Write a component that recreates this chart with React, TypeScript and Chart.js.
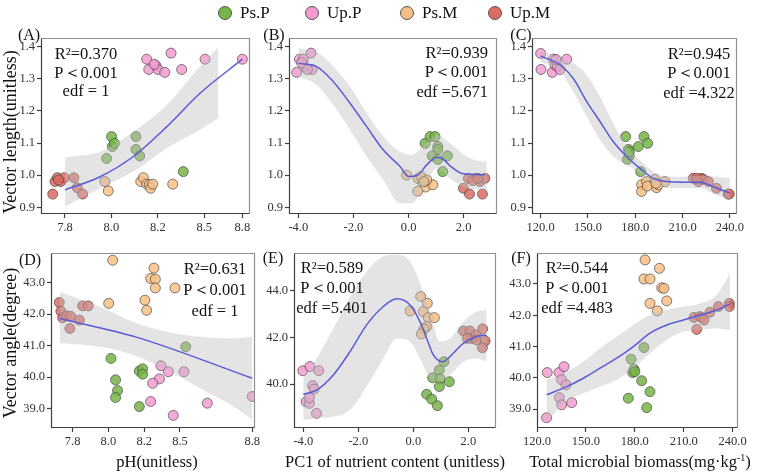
import React, { useEffect, useRef } from "react";
import { Chart, registerables } from "chart.js";

Chart.register(...registerables);

const FONT = "'Liberation Serif', 'Times New Roman', Times, serif";

// Groups
const groupNames = ["Ps.P", "Up.P", "Ps.M", "Up.M"];
const groupColors = ["#76b547", "#f39bd1", "#f8bf85", "#dc6b62"];
const groupFill = [
  "rgba(118,181,71,0.85)",
  "rgba(243,155,209,0.85)",
  "rgba(248,191,133,0.85)",
  "rgba(220,107,98,0.85)",
];
const BAND = "rgba(190,190,190,0.42)";
const FIT = "#5b5bd9";

// Ticks
const phTicksA = [7.75, 8.0, 8.25, 8.5, 8.705];
const phTicksD = [7.75, 8.0, 8.25, 8.5, 9.005];
const phLabels = ["7.8", "8.0", "8.2", "8.5", "8.8"];
const pcTicks = [-4, -2, 0, 2];
const pcLabels = ["-4.0", "-2.0", "0.0", "2.0"];
const mbTicks = [120, 150, 180, 210, 240];
const mbLabels = ["120.0", "150.0", "180.0", "210.0", "240.0"];
const lenTicks = [0.9, 1.0, 1.1, 1.2, 1.3, 1.4];
const lenLabels = ["0.9", "1.0", "1.1", "1.2", "1.3", "1.4"];
const angTicks = [39, 40, 41, 42, 43];
const angLabels = ["39.0", "40.0", "41.0", "42.0", "43.0"];
const angTicksE = [40, 42, 44];
const angLabelsE = ["40.0", "42.0", "44.0"];

// (A) vector length vs pH
const aPsP = [[8.001, 1.12], [8.005, 1.089], [8.016, 1.099], [7.974, 1.052], [8.132, 1.12], [8.132, 1.08], [8.152, 1.06], [8.387, 1.011]];
const aUpP = [[8.19, 1.361], [8.201, 1.329], [8.24, 1.341], [8.251, 1.329], [8.287, 1.32], [8.321, 1.38], [8.378, 1.329], [8.504, 1.361], [8.705, 1.361], [8.23, 1.345]];
const aPsM = [[7.965, 0.98], [7.983, 0.951], [8.158, 0.98], [8.172, 0.992], [8.19, 0.972], [8.204, 0.97], [8.211, 0.959], [8.222, 0.972], [8.33, 0.972]];
const aUpM = [[7.684, 0.941], [7.696, 0.98], [7.709, 0.992], [7.728, 0.98], [7.746, 0.992], [7.798, 0.992], [7.816, 0.961], [7.845, 0.941], [7.715, 0.985]];
const aFitX = [7.75, 7.939, 8.118, 8.298, 8.477, 8.705];
const aFitY = [0.954, 0.995, 1.058, 1.151, 1.255, 1.361];
const aBandX = [7.75, 7.939, 8.118, 8.298, 8.477, 8.576];
const aBandHi = [1.056, 1.073, 1.135, 1.218, 1.338, 1.398];
const aBandLo = [0.902, 0.959, 1.011, 1.084, 1.141, 1.177];

// (B) vector length vs PC1
const bPsP = [[0.6, 1.099], [0.78, 1.12], [0.96, 1.12], [1.06, 1.089], [1.06, 1.08], [0.86, 1.06], [1.06, 1.049], [1.41, 1.06], [1.24, 1.011]];
const bUpP = [[-4.06, 1.32], [-3.96, 1.361], [-3.82, 1.361], [-3.78, 1.338], [-3.54, 1.38], [-3.5, 1.329], [-3.67, 1.329], [-3.88, 1.35]];
const bPsM = [[-0.07, 1.0], [0.34, 0.99], [0.45, 0.996], [0.52, 0.977], [0.62, 0.963], [0.88, 0.97], [0.33, 0.95], [0.66, 0.985], [0.56, 0.98]];
const bUpM = [[1.99, 0.959], [2.21, 0.941], [2.17, 0.99], [2.45, 0.99], [2.59, 0.98], [2.77, 0.99], [2.68, 0.941], [2.33, 0.983], [2.52, 0.99]];
const bFitX = [-4, -3.335, -2.73, -2.125, -1.52, -0.915, -0.31, 0.004, 0.295, 0.658, 1.02, 1.262, 1.504, 1.988, 2.774];
const bFitY = [1.348, 1.338, 1.291, 1.224, 1.151, 1.078, 1.027, 0.996, 0.998, 1.032, 1.056, 1.049, 1.029, 1.004, 1.001];
const bBandX = [-4, -3.335, -2.73, -2.125, -1.52, -0.915, -0.31, 0.11, 0.6, 1.02, 1.504, 2.109, 2.714, 2.834];
const bBandHi = [1.395, 1.384, 1.338, 1.276, 1.193, 1.12, 1.073, 1.063, 1.096, 1.125, 1.099, 1.058, 1.042, 1.049];
const bBandLo = [1.307, 1.281, 1.218, 1.141, 1.058, 0.985, 0.912, 0.912, 0.97, 1.021, 0.99, 0.959, 0.954, 0.954];

// (C) vector length vs microbial biomass
const cPsP = [[173.9, 1.12], [175.6, 1.08], [176.2, 1.06], [174.9, 1.049], [176.2, 1.073], [181.9, 1.089], [185.5, 1.12], [187.8, 1.099], [183.4, 1.011]];
const cUpP = [[120, 1.379], [120.2, 1.329], [127.4, 1.32], [128, 1.361], [129.1, 1.343], [130.6, 1.338], [132.3, 1.329], [136.5, 1.361], [129.7, 1.36]];
const cPsM = [[184, 0.97], [184, 0.949], [187.2, 0.98], [187.6, 0.966], [192.5, 0.987], [193.5, 0.961], [194.6, 0.97], [198.8, 0.98], [193.1, 0.975]];
const cUpM = [[216.8, 0.99], [220, 0.98], [222, 0.99], [223.1, 0.987], [226.3, 0.98], [231.5, 0.959], [238.9, 0.941], [239.6, 0.941], [218.9, 0.99]];
const cFitX = [120, 132.3, 140.7, 149.2, 157.6, 166.1, 174.5, 183, 191.4, 199.9, 210.4, 221, 229.4, 240];
const cFitY = [1.371, 1.343, 1.301, 1.229, 1.167, 1.104, 1.058, 1.021, 0.99, 0.98, 0.978, 0.978, 0.964, 0.944];
const cBandX = [120, 132.3, 140.7, 149.2, 157.6, 166.1, 174.5, 183, 191.4, 199.9, 210.4, 221, 231.5, 240];
const cBandHi = [1.39, 1.364, 1.348, 1.312, 1.244, 1.161, 1.089, 1.047, 1.011, 0.995, 0.995, 0.997, 0.995, 0.99];
const cBandLo = [1.353, 1.322, 1.26, 1.182, 1.11, 1.058, 1.032, 1.006, 0.975, 0.959, 0.959, 0.959, 0.938, 0.923];

// (D) vector angle vs pH
const dPsP = [[8.018, 40.59], [8.05, 39.91], [8.064, 39.57], [8.05, 39.35], [8.216, 39.06], [8.216, 40.19], [8.239, 40.26], [8.239, 40.09], [8.54, 40.96]];
const dUpP = [[8.367, 40.36], [8.356, 39.94], [8.309, 39.8], [8.295, 39.22], [8.419, 40.17], [8.453, 38.78], [8.528, 40.17], [8.691, 39.17], [9.005, 39.38]];
const dPsM = [[8.03, 43.71], [8.318, 43.46], [8.295, 43.13], [8.328, 43.11], [8.328, 42.83], [8.465, 42.83], [8.002, 42.34], [8.255, 42.44], [8.267, 42.12]];
const dUpM = [[7.657, 42.37], [7.668, 42.09], [7.68, 41.88], [7.708, 41.94], [7.736, 41.93], [7.797, 41.81], [7.82, 42.26], [7.859, 42.26], [7.731, 41.54]];
const dFitX = [7.661, 8.2, 9.005];
const dFitY = [41.86, 41.26, 39.96];
const dBandX = [7.661, 7.941, 8.174, 8.407, 8.64, 8.873, 9.005];
const dBandHi = [42.7, 42.23, 41.75, 41.44, 41.28, 41.23, 41.28];
const dBandLo = [41.07, 40.96, 40.7, 40.22, 39.64, 39.06, 38.64];

// (E) vector angle vs PC1
const ePsP = [[1.115, 40.96], [0.945, 40.6], [0.703, 40.27], [0.97, 40.22], [0.945, 39.89], [1.309, 40.1], [0.485, 39.56], [0.667, 39.35], [0.873, 39.07]];
const eUpP = [[-4.02, 40.57], [-3.76, 40.75], [-3.44, 40.57], [-3.66, 39.93], [-3.61, 39.78], [-3.9, 39.24], [-3.78, 39.17], [-3.78, 39.41], [-3.52, 38.74]];
const ePsM = [[-0.12, 43.14], [0.267, 43.76], [0.509, 43.47], [0.364, 43.11], [0.545, 42.85], [0.764, 42.85], [0.485, 42.47], [0.388, 42.37], [0.291, 42.15]];
const eUpM = [[1.82, 42.28], [2.06, 42.28], [2.12, 41.96], [2.28, 42.11], [2.52, 42.37], [2.3, 41.89], [2.61, 41.85], [2.51, 41.56], [1.96, 41.96]];
const eFitX = [-4, -3.515, -2.909, -2.303, -1.697, -1.091, -0.606, -0.121, 0.242, 0.485, 0.727, 1.067, 1.333, 1.818, 2.303, 2.667];
const eFitY = [39.56, 39.74, 40.39, 41.39, 42.54, 43.33, 43.66, 43.4, 42.68, 41.96, 41.25, 40.96, 41.18, 41.75, 42.04, 42.11];
const eBandX = [-4, -3.515, -2.909, -2.303, -1.697, -1.091, -0.606, -0.121, 0.242, 0.606, 0.97, 1.333, 1.818, 2.303, 2.667];
const eBandHi = [40.24, 41.1, 42.39, 43.76, 44.83, 45.48, 45.55, 45.26, 44.33, 43.11, 41.82, 41.96, 42.68, 43.11, 43.18];
const eBandLo = [38.45, 38.52, 38.59, 38.88, 39.89, 41.1, 41.96, 41.82, 41.1, 40.24, 40.1, 40.39, 40.96, 41.1, 40.96];

// (F) vector angle vs microbial biomass
const fPsP = [[185.6, 40.97], [177.7, 40.6], [179.5, 40.28], [178.7, 40.17], [180, 40.2], [184.2, 39.91], [189.3, 39.56], [176, 39.35], [187.3, 39.05]];
const fUpP = [[125.9, 38.73], [126.3, 40.17], [133.5, 40.17], [135.1, 39.94], [136.6, 40.36], [137.8, 39.78], [133.7, 39.37], [135.1, 39.14], [141.3, 39.21]];
const fPsM = [[186.3, 43.77], [195.1, 43.5], [185.6, 43.16], [189.3, 43.16], [196.5, 42.88], [197.9, 42.86], [189.3, 42.38], [199.6, 42.46], [193.8, 42.14]];
const fUpM = [[216.3, 41.93], [218, 41.55], [220, 41.96], [221, 41.93], [222.5, 41.85], [226.1, 42.1], [231.3, 42.28], [238, 42.38], [238, 42.28]];
const fFitX = [125.9, 138.2, 148.4, 158.7, 168.9, 179.1, 189.3, 199.6, 209.8, 220, 230.2, 238.4];
const fFitY = [39.46, 39.72, 39.99, 40.31, 40.63, 41.0, 41.43, 41.69, 41.85, 42.01, 42.17, 42.36];
const fBandX = [125.9, 138.2, 148.4, 158.7, 168.9, 179.1, 189.3, 199.6, 209.8, 220, 230.2, 238.4];
const fBandHi = [39.94, 40.2, 40.52, 40.95, 41.32, 41.69, 42.01, 42.17, 42.28, 42.38, 42.65, 43.34];
const fBandLo = [38.61, 39.24, 39.51, 39.72, 39.94, 40.31, 40.79, 41.21, 41.48, 41.53, 41.59, 41.53];

// Model statistics
const statsA = ["R²=0.370", "P＜0.001", "edf = 1"];
const statsB = ["R²=0.939", "P＜0.001", "edf =5.671"];
const statsC = ["R²=0.945", "P＜0.001", "edf =4.322"];
const statsD = ["R²=0.631", "P＜0.001", "edf = 1"];
const statsE = ["R²=0.589", "P＜0.001", "edf =5.401"];
const statsF = ["R²=0.544", "P＜0.001", "edf =4.483"];

type Pair = number[];
type PanelSpec = {
  key: string;
  frame: number[];
  xRange: number[];
  yRange: number[];
  xTicks: number[];
  xLabels: string[];
  yTicks: number[];
  yLabels: string[];
  groups: Pair[][];
  fitX: number[];
  fitY: number[];
  bandX: number[];
  bandHi: number[];
  bandLo: number[];
};

const panels: PanelSpec[] = [
  { key: "A", frame: [41, 38, 250, 214], xRange: [7.621, 8.746], yRange: [0.879, 1.427], xTicks: phTicksA, xLabels: phLabels, yTicks: lenTicks, yLabels: lenLabels, groups: [aPsP, aUpP, aPsM, aUpM], fitX: aFitX, fitY: aFitY, bandX: aBandX, bandHi: aBandHi, bandLo: aBandLo },
  { key: "B", frame: [289, 38, 497, 214], xRange: [-4.339, 3.209], yRange: [0.879, 1.427], xTicks: pcTicks, xLabels: pcLabels, yTicks: lenTicks, yLabels: lenLabels, groups: [bPsP, bUpP, bPsM, bUpM], fitX: bFitX, fitY: bFitY, bandX: bBandX, bandHi: bBandHi, bandLo: bBandLo },
  { key: "C", frame: [532, 38, 737, 214], xRange: [114.5, 244.5], yRange: [0.879, 1.427], xTicks: mbTicks, xLabels: mbLabels, yTicks: lenTicks, yLabels: lenLabels, groups: [cPsP, cUpP, cPsM, cUpM], fitX: cFitX, fitY: cFitY, bandX: cBandX, bandHi: cBandHi, bandLo: cBandLo },
  { key: "D", frame: [51, 253, 255, 428], xRange: [7.599, 9.024], yRange: [38.38, 43.94], xTicks: phTicksD, xLabels: phLabels, yTicks: angTicks, yLabels: angLabels, groups: [dPsP, dUpP, dPsM, dUpM], fitX: dFitX, fitY: dFitY, bandX: dBandX, bandHi: dBandHi, bandLo: dBandLo },
  { key: "E", frame: [294, 253, 496, 428], xRange: [-4.339, 3.006], yRange: [38.11, 45.63], xTicks: pcTicks, xLabels: pcLabels, yTicks: angTicksE, yLabels: angLabelsE, groups: [ePsP, eUpP, ePsM, eUpM], fitX: eFitX, fitY: eFitY, bandX: eBandX, bandHi: eBandHi, bandLo: eBandLo },
  { key: "F", frame: [537, 253, 738, 428], xRange: [120.0, 243.3], yRange: [38.4, 43.99], xTicks: mbTicks, xLabels: mbLabels, yTicks: angTicks, yLabels: angLabels, groups: [fPsP, fUpP, fPsM, fUpM], fitX: fFitX, fitY: fFitY, bandX: fBandX, bandHi: fBandHi, bandLo: fBandLo },
];

const Y_W = 40;
const PAD_T = 14;
const PAD_R = 24;
const X_H = 32;
const AXIS_COLOR = "#404040";
const FRAME_COLOR = "#8f8f8f";

// Box around each plot area: darker axis lines on left/bottom, lighter on top/right
const framePlugin = {
  id: "panelFrame",
  afterDraw(chart: any) {
    const { ctx, chartArea: a } = chart;
    const left = Math.round(a.left) + 0.5;
    const top = Math.round(a.top) + 0.5;
    const right = Math.round(a.right) - 0.5;
    const bottom = Math.round(a.bottom) - 0.5;
    ctx.save();
    ctx.lineWidth = 1.2;
    ctx.strokeStyle = FRAME_COLOR;
    ctx.beginPath();
    ctx.moveTo(left, top);
    ctx.lineTo(right, top);
    ctx.lineTo(right, bottom);
    ctx.stroke();
    ctx.strokeStyle = AXIS_COLOR;
    ctx.beginPath();
    ctx.moveTo(left, top);
    ctx.lineTo(left, bottom);
    ctx.lineTo(right, bottom);
    ctx.stroke();
    ctx.restore();
  },
};

function axisOptions(min: number, max: number, ticks: number[], labels: string[], horizontal: boolean) {
  return {
    type: "linear",
    min,
    max,
    afterBuildTicks: (s: any) => {
      s.ticks = ticks.map((v) => ({ value: v }));
    },
    afterFit: (s: any) => {
      if (horizontal) s.height = X_H;
      else s.width = Y_W;
    },
    ticks: {
      autoSkip: false,
      maxRotation: 0,
      padding: 2,
      color: "#333",
      font: { family: FONT, size: 12.5 },
      callback: (_v: any, i: number) => labels[i],
    },
    grid: { display: true, drawOnChartArea: false, drawTicks: true, tickLength: 4, tickWidth: 1.2, tickColor: AXIS_COLOR, color: AXIS_COLOR },
    border: { display: false },
  };
}

function ScatterPanel({ spec }: { spec: PanelSpec }) {
  const ref = useRef<HTMLCanvasElement>(null);
  const [L, T, R, B] = spec.frame;
  const width = Y_W + (R - L) + PAD_R;
  const height = PAD_T + (B - T) + X_H;

  useEffect(() => {
    const canvas = ref.current;
    if (!canvas) return;
    const pointSets = spec.groups.map((pts, i) => ({
      label: groupNames[i],
      data: pts.map((p) => ({ x: p[0], y: p[1] })),
      showLine: false,
      pointRadius: 5,
      pointHoverRadius: 5,
      pointBackgroundColor: groupFill[i],
      pointBorderColor: "rgba(70,70,70,0.85)",
      pointBorderWidth: 0.8,
      order: 3,
    }));
    const datasets: any[] = [
      ...pointSets,
      {
        label: "upper",
        data: spec.bandX.map((x, i) => ({ x, y: spec.bandHi[i] })),
        borderColor: "rgba(0,0,0,0)",
        borderWidth: 0,
        pointRadius: 0,
        fill: "+1",
        backgroundColor: BAND,
        cubicInterpolationMode: "monotone",
        order: 2,
      },
      {
        label: "lower",
        data: spec.bandX.map((x, i) => ({ x, y: spec.bandLo[i] })),
        borderColor: "rgba(0,0,0,0)",
        borderWidth: 0,
        pointRadius: 0,
        fill: false,
        cubicInterpolationMode: "monotone",
        order: 2,
      },
      {
        label: "fit",
        data: spec.fitX.map((x, i) => ({ x, y: spec.fitY[i] })),
        borderColor: FIT,
        borderWidth: 1.5,
        pointRadius: 0,
        fill: false,
        cubicInterpolationMode: "monotone",
        order: 1,
      },
    ];
    const chart = new Chart(canvas, {
      type: "line",
      data: { datasets },
      options: {
        responsive: false,
        maintainAspectRatio: false,
        animation: false,
        events: [],
        layout: { padding: { top: PAD_T, right: PAD_R, left: 0, bottom: 0 } },
        plugins: { legend: { display: false }, tooltip: { enabled: false } },
        scales: {
          x: axisOptions(spec.xRange[0], spec.xRange[1], spec.xTicks, spec.xLabels, true) as any,
          y: axisOptions(spec.yRange[0], spec.yRange[1], spec.yTicks, spec.yLabels, false) as any,
        },
      } as any,
      plugins: [framePlugin],
    });
    return () => chart.destroy();
  }, [spec]);

  return (
    <canvas
      ref={ref}
      width={width}
      height={height}
      style={{ position: "absolute", left: L - Y_W, top: T - PAD_T, width, height }}
    />
  );
}

type Align = "left" | "center" | "right";

function Label({ x, y, text, size, align = "left", lh = 20 }: { x: number; y: number; text: React.ReactNode; size: number; align?: Align; lh?: number }) {
  const shift = align === "center" ? "translateX(-50%)" : align === "right" ? "translateX(-100%)" : "none";
  return (
    <div
      style={{
        position: "absolute",
        left: x,
        top: y - lh / 2,
        lineHeight: `${lh}px`,
        fontSize: size,
        whiteSpace: "nowrap",
        transform: shift,
      }}
    >
      {text}
    </div>
  );
}

function Stats({ lines, x, ys, align }: { lines: string[]; x: number; ys: number[]; align: Align }) {
  return (
    <>
      {lines.map((t, i) => (
        <Label key={i} x={x} y={ys[i]} text={t} size={16.5} align={align} />
      ))}
    </>
  );
}

const legendX = [225, 312, 407, 495];

export default function App() {
  useEffect(() => {
    document.body.style.margin = "0";
  }, []);

  return (
    <div
      style={{
        position: "absolute",
        left: 0,
        top: 0,
        width: 767,
        height: 473,
        background: "#fff",
        overflow: "hidden",
        fontFamily: FONT,
        color: "#111",
      }}
    >
      {panels.map((p) => (
        <ScatterPanel key={p.key} spec={p} />
      ))}

      {/* legend */}
      {groupNames.map((g, i) => (
        <React.Fragment key={g}>
          <div
            style={{
              position: "absolute",
              left: legendX[i] - 7,
              top: 13 - 7,
              width: 14,
              height: 14,
              boxSizing: "border-box",
              borderRadius: "50%",
              background: groupColors[i],
              border: "1px solid #555",
            }}
          />
          <Label x={legendX[i] + 15} y={13} text={g} size={17} />
        </React.Fragment>
      ))}

      {/* panel tags */}
      <Label x={29} y={35} text="(A)" size={16} align="center" />
      <Label x={274} y={35} text="(B)" size={16} align="center" />
      <Label x={521} y={35} text="(C)" size={16} align="center" />
      <Label x={30} y={260} text="(D)" size={16} align="center" />
      <Label x={273} y={258} text="(E)" size={16} align="center" />
      <Label x={521} y={258} text="(F)" size={16} align="center" />

      {/* model statistics */}
      <Stats lines={statsA} x={86} ys={[54, 73, 91]} align="center" />
      <Stats lines={statsB} x={488} ys={[53, 72, 92]} align="right" />
      <Stats lines={statsC} x={699} ys={[54, 73, 93]} align="center" />
      <Stats lines={statsD} x={215} ys={[269, 290, 311]} align="center" />
      <Stats lines={statsE} x={332} ys={[268, 288, 308]} align="center" />
      <Stats lines={statsF} x={577} ys={[268, 288, 308]} align="center" />

      {/* axis titles */}
      <div style={{ position: "absolute", left: 10, top: 132, transform: "translate(-50%,-50%) rotate(-90deg)", fontSize: 18, whiteSpace: "nowrap", lineHeight: "20px" }}>
        Vector length(unitless)
      </div>
      <div style={{ position: "absolute", left: 10, top: 343, transform: "translate(-50%,-50%) rotate(-90deg)", fontSize: 18, whiteSpace: "nowrap", lineHeight: "20px" }}>
        Vector angle(degree)
      </div>
      <Label x={157} y={462} text="pH(unitless)" size={16.5} align="center" />
      <Label x={395} y={462} text="PC1 of nutrient content (unitless)" size={16.5} align="center" />
      <Label
        x={640}
        y={462}
        size={16.5}
        align="center"
        text={
          <span>
            Total microbial biomass(mg·kg<span style={{ fontSize: 10, verticalAlign: "6px", lineHeight: 0 }}>-1</span>)
          </span>
        }
      />
    </div>
  );
}
